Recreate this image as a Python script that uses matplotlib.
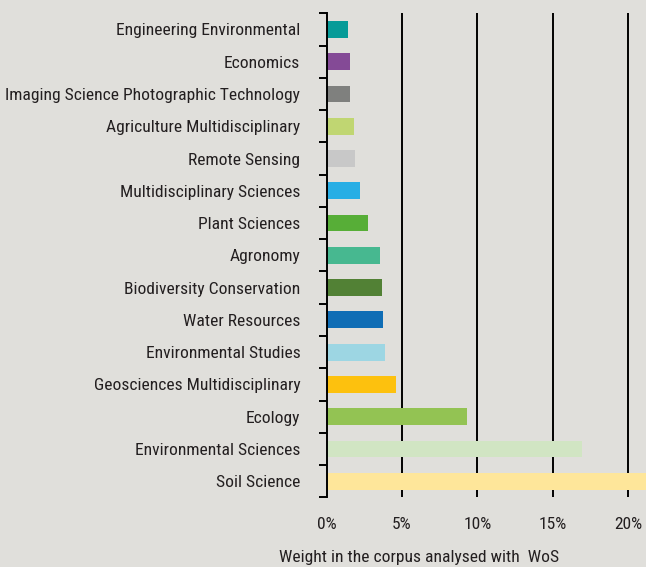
import matplotlib.pyplot as plt
from matplotlib import font_manager
import numpy as np

# pick a narrow / condensed sans if one is installed
fam, stretch = 'DejaVu Sans', 'normal'
names = {f.name: f for f in font_manager.fontManager.ttflist}
for cand in ['Liberation Sans Narrow', 'Roboto Condensed', 'Open Sans Condensed',
             'Noto Sans Condensed', 'DejaVu Sans Condensed']:
    if cand in names:
        fam = cand
        break
else:
    for f in font_manager.fontManager.ttflist:
        if f.name in ('DejaVu Sans', 'Noto Sans', 'Open Sans') and \
                str(f.stretch) in ('condensed', 'semi-condensed', '87.5', '75') \
                and f.weight in (400, 'normal'):
            fam, stretch = f.name, f.stretch
            break
plt.rcParams['font.family'] = [fam, 'DejaVu Sans']
plt.rcParams['font.stretch'] = stretch

# 1. Data (bottom to top)
categories = ['Soil Science', 'Environmental Sciences', 'Ecology',
              'Geosciences Multidisciplinary', 'Environmental Studies',
              'Water Resources', 'Biodiversity Conservation', 'Agronomy',
              'Plant Sciences', 'Multidisciplinary Sciences', 'Remote Sensing',
              'Agriculture Multidisciplinary',
              'Imaging Science Photographic Technology', 'Economics',
              'Engineering Environmental']
weights = [23.0, 16.95, 9.3, 4.6, 3.87, 3.74, 3.67, 3.54, 2.74, 2.21,
           1.88, 1.81, 1.55, 1.55, 1.42]
colors = ['#fee69a', '#d1e5c3', '#93c353', '#fdc10e', '#9dd6e3', '#0f6db5',
          '#528135', '#47b890', '#57ae37', '#27aee5', '#c8c8c8', '#c0d672',
          '#7f807e', '#844a96', '#069b98']
xticks = [0, 5, 10, 15, 20]

bg = '#e0dfdb'
txt = '#231f20'

# 2. Figure
fig = plt.figure(figsize=(6.46, 5.67), dpi=100, facecolor=bg)
ax = fig.add_axes([0.5057, 0.1229, 0.4943, 0.8536], facecolor=bg)

y = np.arange(len(categories))
for xv in xticks[1:]:
    ax.axvline(xv, color='black', lw=1.4, zorder=1)
ax.barh(y, weights, height=0.52, color=colors, zorder=2)

# 3. Axes styling
ax.set_xlim(0, 21.2)
ax.set_ylim(-0.5, len(categories) - 0.5)
for s in ['top', 'right', 'bottom']:
    ax.spines[s].set_visible(False)
ax.spines['left'].set_linewidth(1.4)
ax.spines['left'].set_color('black')

fs = 12.6
ax.set_yticks(y)
ax.set_yticklabels(categories, fontsize=fs, color=txt)
ax.tick_params(axis='y', length=0, pad=19)
ax.set_yticks(np.arange(-0.5, len(categories)), minor=True)
ax.tick_params(axis='y', which='minor', length=6, width=1.4, color='black')

ax.set_xticks(xticks)
ax.set_xticklabels([f'{v}%' for v in xticks], fontsize=fs, color=txt)
ax.tick_params(axis='x', length=0, pad=14)

# x label sits left of the axes centre in the original
fig.text(419 / 646, 1 - 562 / 567, 'Weight in the corpus analysed with  WoS',
         fontsize=fs, color=txt, ha='center', va='baseline')

fig.savefig('out.png', dpi=100, facecolor=bg)
